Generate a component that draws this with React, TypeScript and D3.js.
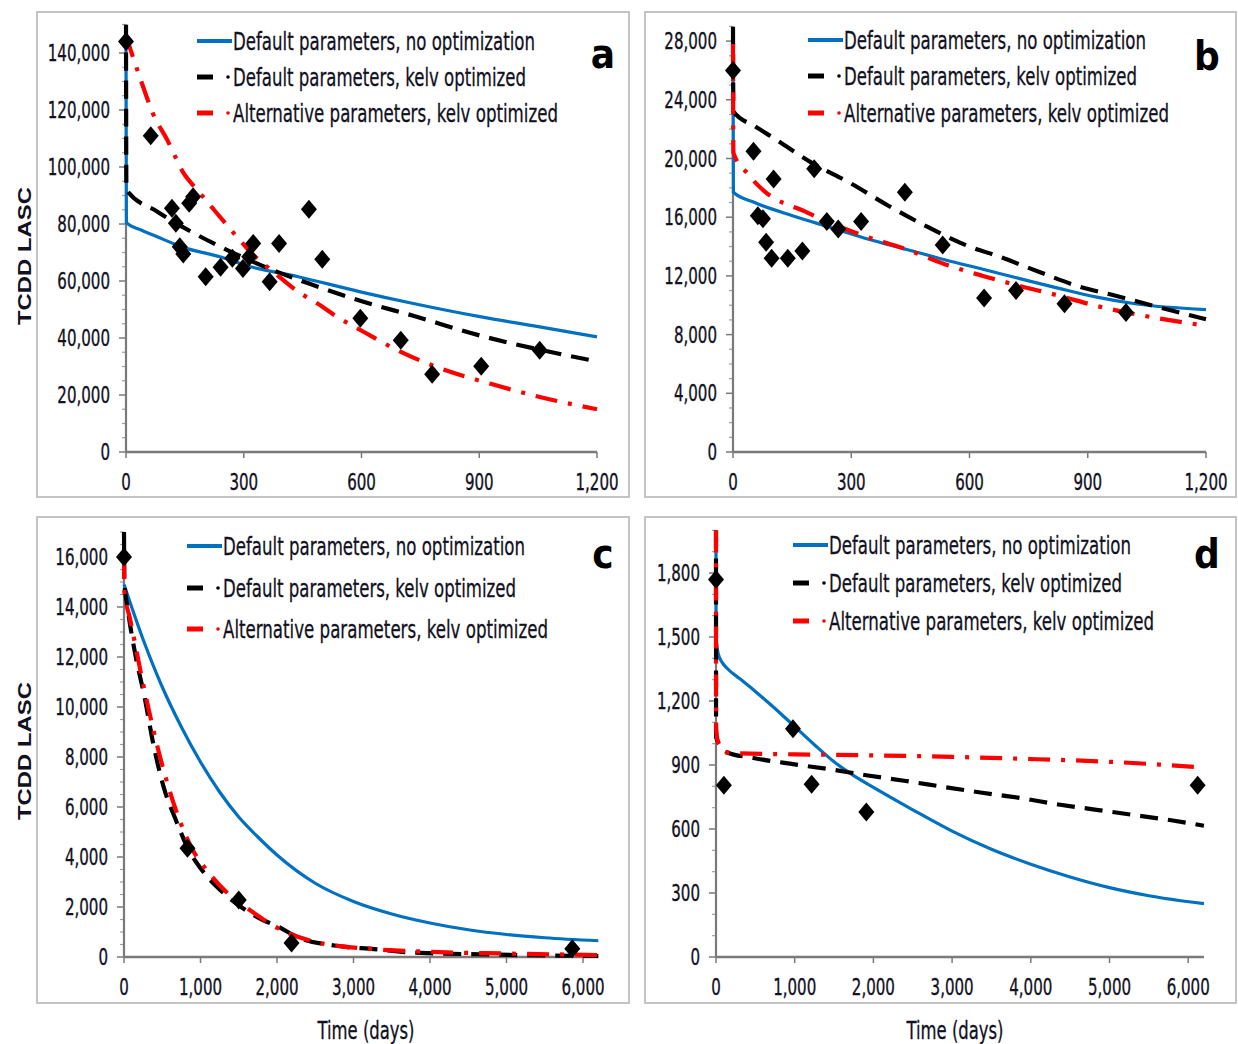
import React from "react";
import * as d3 from "d3";

const NARROW = "'Liberation Sans Narrow','Arial Narrow','DejaVu Sans Condensed',sans-serif";
const WIDE = "'Liberation Sans',Arial,'DejaVu Sans',sans-serif";
const BLUE = "#0070C0";
const BLACK = "#000000";
const RED = "#FF0000";
const TEXT = "#111122";

const legendLabels = [
  "Default parameters, no optimization",
  "Default parameters, kelv optimized",
  "Alternative parameters, kelv optimized",
];
const panelLetters = ["a", "b", "c", "d"];
const yAxisTitle = "TCDD LASC";
const xAxisTitle = "Time (days)";

// ---------- Panel a ----------
const aXTicks = [0, 300, 600, 900, 1200];
const aYTicks = [0, 20000, 40000, 60000, 80000, 100000, 120000, 140000];
const aObsDays = [0, 63, 117, 127, 137, 146, 161, 171, 203, 241, 271, 298, 314, 324, 366, 390, 466, 500, 597, 700, 780, 905, 1054];
const aObsVals = [144000, 111000, 85500, 80300, 72000, 69500, 87300, 89600, 61500, 64800, 68000, 64400, 68500, 73200, 59700, 73200, 85200, 67600, 46900, 39200, 27300, 30100, 35700];
const aBlueDays = [0, 1, 40, 78, 146, 244, 302, 439, 597, 732, 905, 1054, 1200];
const aBlueVals = [145000, 80500, 77800, 75600, 71800, 68300, 65600, 61500, 56200, 52100, 47400, 43900, 40400];
const aBlackDays = [0, 1, 80, 166, 244, 371, 468, 605, 732, 898, 1054, 1200];
const aBlackVals = [150000, 92000, 84300, 77300, 71800, 64000, 59000, 52700, 47800, 41000, 35900, 31800];
const aRedDays = [0, 39, 68, 107, 146, 185, 224, 283, 322, 380, 439, 488, 537, 605, 683, 790, 927, 1054, 1200];
const aRedVals = [146000, 130000, 119000, 109000, 98000, 91400, 85000, 75500, 69500, 62700, 56200, 52100, 47500, 42200, 36300, 29900, 24000, 19300, 15000];

// ---------- Panel b ----------
const bXTicks = [0, 300, 600, 900, 1200];
const bYTicks = [0, 4000, 8000, 12000, 16000, 20000, 24000, 28000];
const bObsDays = [0, 52, 63, 76, 84, 98, 103, 139, 176, 206, 238, 267, 325, 436, 532, 637, 718, 841, 997];
const bObsVals = [26000, 20500, 16100, 15900, 14300, 13200, 18600, 13200, 13700, 19300, 15700, 15200, 15700, 17700, 14100, 10500, 11000, 10100, 9500];
const bBlueDays = [0, 1, 55, 151, 248, 344, 441, 537, 634, 730, 827, 923, 1020, 1200];
const bBlueVals = [27500, 17700, 17000, 16100, 15300, 14500, 13800, 13100, 12450, 11800, 11150, 10550, 10100, 9700];
const bBlackDays = [0, 1, 55, 103, 200, 296, 393, 489, 586, 682, 779, 875, 971, 1068, 1200];
const bBlackVals = [29000, 23200, 22200, 21400, 19700, 18350, 16800, 15400, 14150, 13250, 12250, 11300, 10650, 9950, 9050];
const bRedDays = [0, 1, 36, 74, 190, 248, 325, 441, 537, 634, 730, 827, 923, 1020, 1200];
const bRedVals = [27800, 20400, 19000, 17900, 16300, 15600, 14800, 13800, 12800, 12000, 11300, 10650, 9950, 9400, 8600];

// ---------- Panel c ----------
const cXTicks = [0, 1000, 2000, 3000, 4000, 5000, 6000];
const cYTicks = [0, 2000, 4000, 6000, 8000, 10000, 12000, 14000, 16000];
const cObsDays = [0, 830, 1500, 2190, 5860];
const cObsVals = [16000, 4350, 2280, 560, 330];
const cBlueDays = [0, 250, 500, 750, 1000, 1250, 1500, 1750, 2000, 2500, 3000, 3500, 4000, 4500, 5000, 5500, 6200];
const cBlueVals = [14900, 12700, 10800, 9200, 7800, 6600, 5600, 4800, 4080, 2950, 2220, 1720, 1360, 1090, 900, 770, 650];
const cBlackDays = [0, 5, 50, 150, 275, 374, 524, 674, 824, 1023, 1273, 1522, 1772, 2022, 2271, 2770, 3270, 3769, 4767, 6200];
const cBlackVals = [17000, 15000, 13900, 12070, 10300, 8660, 6740, 5510, 4420, 3460, 2640, 2020, 1545, 1200, 790, 450, 315, 180, 100, 40];
const cRedDays = [0, 5, 75, 275, 474, 674, 874, 1123, 1373, 1672, 2022, 2521, 3270, 4018, 5017, 6200];
const cRedVals = [16000, 14600, 13580, 10570, 7970, 5920, 4420, 3320, 2500, 1820, 1135, 590, 315, 205, 137, 80];

// ---------- Panel d ----------
const dXTicks = [0, 1000, 2000, 3000, 4000, 5000, 6000];
const dYTicks = [0, 300, 600, 900, 1200, 1500, 1800];
const dObsDays = [0, 100, 978, 1215, 1910, 6120];
const dObsVals = [1770, 805, 1070, 810, 680, 805];
const dBlueDays = [0, 1, 30, 80, 150, 300, 500, 750, 1000, 1250, 1500, 1750, 2000, 2500, 3000, 3500, 4000, 4500, 5000, 5500, 6200];
const dBlueVals = [1900, 1490, 1420, 1380, 1350, 1305, 1245, 1165, 1080, 995, 915, 850, 795, 690, 590, 505, 435, 375, 325, 287, 250];
const dBlackDays = [0, 1, 63, 136, 475, 960, 1444, 1929, 2413, 2898, 3382, 3866, 4351, 4835, 5320, 5804, 6200];
const dBlackVals = [2000, 1030, 990, 960, 933, 905, 880, 851, 825, 797, 770, 745, 715, 690, 665, 640, 615];
const dRedDays = [0, 1, 40, 100, 250, 1000, 2000, 3000, 4000, 5000, 6200];
const dRedVals = [2000, 1070, 990, 962, 955, 950, 945, 938, 928, 915, 888];

const zip = (a: number[], b: number[]): [number, number][] => a.map((v, i) => [v, b[i]]);

type Cfg = {
  frame: [number, number, number, number];
  xMax: number; x0: number; xPerMajor: number; xMajor: number;
  yMax: number; y0: number; yPerMajor: number; yMajor: number; yMinor: number;
  xTicks: number[]; yTicks: number[];
  obs: [number, number][]; blue: [number, number][]; black: [number, number][]; red: [number, number][];
  legX: number; legRows: number[];
  letter: string; letterX: number; letterY: number;
  xTitleX?: number; yTitleY?: number;
};

const panels: Cfg[] = [
  {
    frame: [37, 12, 592, 485], xMax: 1200, x0: 126, xPerMajor: 117.75, xMajor: 300,
    yMax: 150000, y0: 452, yPerMajor: 57, yMajor: 20000, yMinor: 5000,
    xTicks: aXTicks, yTicks: aYTicks,
    obs: zip(aObsDays, aObsVals), blue: zip(aBlueDays, aBlueVals), black: zip(aBlackDays, aBlackVals), red: zip(aRedDays, aRedVals),
    legX: 197, legRows: [41, 77, 113], letter: panelLetters[0], letterX: 603, letterY: 68, yTitleY: 256,
  },
  {
    frame: [645, 12, 591, 485], xMax: 1200, x0: 733, xPerMajor: 118.25, xMajor: 300,
    yMax: 29000, y0: 452, yPerMajor: 58.7, yMajor: 4000, yMinor: 1000,
    xTicks: bXTicks, yTicks: bYTicks,
    obs: zip(bObsDays, bObsVals), blue: zip(bBlueDays, bBlueVals), black: zip(bBlackDays, bBlackVals), red: zip(bRedDays, bRedVals),
    legX: 808, legRows: [40, 76, 113], letter: panelLetters[1], letterX: 1207, letterY: 70,
  },
  {
    frame: [37, 517, 592, 486], xMax: 6200, x0: 124, xPerMajor: 76.5, xMajor: 1000,
    yMax: 17000, y0: 957, yPerMajor: 50, yMajor: 2000, yMinor: 500,
    xTicks: cXTicks, yTicks: cYTicks,
    obs: zip(cObsDays, cObsVals), blue: zip(cBlueDays, cBlueVals), black: zip(cBlackDays, cBlackVals), red: zip(cRedDays, cRedVals),
    legX: 187, legRows: [546, 588, 629], letter: panelLetters[2], letterX: 603, letterY: 568, xTitleX: 366, yTitleY: 751,
  },
  {
    frame: [645, 517, 591, 486], xMax: 6200, x0: 716, xPerMajor: 78.7, xMajor: 1000,
    yMax: 2000, y0: 957, yPerMajor: 64, yMajor: 300, yMinor: 100,
    xTicks: dXTicks, yTicks: dYTicks,
    obs: zip(dObsDays, dObsVals), blue: zip(dBlueDays, dBlueVals), black: zip(dBlackDays, dBlackVals), red: zip(dRedDays, dRedVals),
    legX: 793, legRows: [545, 583, 621], letter: panelLetters[3], letterX: 1207, letterY: 568, xTitleX: 955,
  },
];

const fmt = d3.format(",");
const tickWidth = (s: string, size: number) => {
  let w = 0;
  for (const ch of s) w += ch === "," ? 0.228 : 0.456;
  return w * size;
};

function Panel({ c, idx }: { c: Cfg; idx: number }) {
  const x = d3.scaleLinear().domain([0, c.xMax]).range([c.x0, c.x0 + (c.xMax / c.xMajor) * c.xPerMajor]);
  const y = d3.scaleLinear().domain([0, c.yMax]).range([c.y0, c.y0 - (c.yMax / c.yMajor) * c.yPerMajor]);
  const line = d3.line<[number, number]>().x((d) => x(d[0])).y((d) => y(d[1])).curve(d3.curveMonotoneX);
  const minor = d3.range(0, c.yMax + 1, c.yMinor).filter((v) => v % c.yMajor !== 0);
  const [fx, fy, fw, fh] = c.frame;
  const clipId = `clip${idx}`;
  const legW = [302, 293, 325];
  return (
    <g>
      <rect x={fx} y={fy} width={fw} height={fh} fill="#fff" stroke="#c4c4c4" strokeWidth={2} />
      <defs>
        <clipPath id={clipId}>
          <rect x={x(0) - 10} y={y(c.yMax)} width={x(c.xMax) - x(0) + 14} height={y(0) - y(c.yMax) + 2} />
        </clipPath>
      </defs>
      {minor.map((v) => (
        <line key={"m" + v} x1={x(0) - 4} x2={x(0)} y1={y(v)} y2={y(v)} stroke="#a0a0a0" strokeWidth={1.2} />
      ))}
      {c.yTicks.map((v) => (
        <line key={"t" + v} x1={x(0) - 7} x2={x(0)} y1={y(v)} y2={y(v)} stroke="#7a7a7a" strokeWidth={1.5} />
      ))}
      {c.xTicks.map((v) => (
        <line key={"xt" + v} x1={x(v)} x2={x(v)} y1={y(0)} y2={y(0) + 6} stroke="#7a7a7a" strokeWidth={1.5} />
      ))}
      <line x1={x(0)} x2={x(0)} y1={y(0)} y2={y(c.yMax)} stroke="#7a7a7a" strokeWidth={2.2} />
      <line x1={x(0)} x2={x(c.xMax)} y1={y(0)} y2={y(0)} stroke="#7a7a7a" strokeWidth={2.5} />
      <g clipPath={`url(#${clipId})`}>
        <path d={line(c.blue) || ""} fill="none" stroke={BLUE} strokeWidth={3.2} />
        <path d={line(c.black) || ""} fill="none" stroke={BLACK} strokeWidth={4.2} strokeDasharray="18,10" />
        <path d={line(c.red) || ""} fill="none" stroke={RED} strokeWidth={4.2} strokeDasharray="22,11,4,11" />
      </g>
      {c.obs.map((d, i) => (
        <path key={"o" + i} d="M0,-9.5L8,0L0,9.5L-8,0Z" transform={`translate(${x(d[0])},${y(d[1])})`} fill="#000" />
      ))}
      {c.yTicks.map((v) => {
        const s = fmt(v);
        return (
          <text key={"yl" + v} x={x(0) - 16} y={y(v)} textAnchor="end" dominantBaseline="central"
            fontFamily={NARROW} fontSize={23} fill={TEXT} stroke={TEXT} strokeWidth={0.35}
            textLength={tickWidth(s, 21)} lengthAdjust="spacingAndGlyphs">{s}</text>
        );
      })}
      {c.xTicks.map((v) => {
        const s = fmt(v);
        return (
          <text key={"xl" + v} x={x(v)} y={y(0) + 30} textAnchor="middle" dominantBaseline="central"
            fontFamily={NARROW} fontSize={23} fill={TEXT} stroke={TEXT} strokeWidth={0.35}
            textLength={tickWidth(s, 21)} lengthAdjust="spacingAndGlyphs">{s}</text>
        );
      })}
      {/* legend */}
      <line x1={c.legX} x2={c.legX + 35} y1={c.legRows[0]} y2={c.legRows[0]} stroke={BLUE} strokeWidth={4} />
      <line x1={c.legX} x2={c.legX + 16} y1={c.legRows[1]} y2={c.legRows[1]} stroke={BLACK} strokeWidth={5} />
      <circle cx={c.legX + 31} cy={c.legRows[1]} r={1.8} fill={BLACK} />
      <line x1={c.legX} x2={c.legX + 16} y1={c.legRows[2]} y2={c.legRows[2]} stroke={RED} strokeWidth={5} />
      <circle cx={c.legX + 31} cy={c.legRows[2]} r={1.8} fill={RED} />
      {legendLabels.map((t, i) => (
        <text key={"lg" + i} x={c.legX + 36} y={c.legRows[i]} dominantBaseline="central" fontFamily={NARROW}
          fontSize={25} fill={TEXT} stroke={TEXT} strokeWidth={0.3} textLength={legW[i]} lengthAdjust="spacingAndGlyphs">{t}</text>
      ))}
      <text x={c.letterX} y={c.letterY} textAnchor="middle" fontFamily={NARROW} fontWeight="bold" fontSize={40} fill="#000">{c.letter}</text>
      {c.xTitleX !== undefined && (
        <text x={c.xTitleX} y={1031} textAnchor="middle" dominantBaseline="central" fontFamily={NARROW} fontSize={24}
          fill={TEXT} stroke={TEXT} strokeWidth={0.3} textLength={97} lengthAdjust="spacingAndGlyphs">{xAxisTitle}</text>
      )}
      {c.yTitleY !== undefined && (
        <text transform={`translate(24,${c.yTitleY}) rotate(-90)`} textAnchor="middle" dominantBaseline="central"
          fontFamily={WIDE} fontWeight="bold" fontSize={19} fill={TEXT} textLength={138} lengthAdjust="spacingAndGlyphs">{yAxisTitle}</text>
      )}
    </g>
  );
}

export default function App() {
  return (
    <svg width={1238} height={1044} style={{ position: "absolute", left: 0, top: 0, background: "#fff" }}>
      <rect x={0} y={0} width={1238} height={1044} fill="#fff" />
      {panels.map((p, i) => (
        <Panel key={i} c={p} idx={i} />
      ))}
    </svg>
  );
}
